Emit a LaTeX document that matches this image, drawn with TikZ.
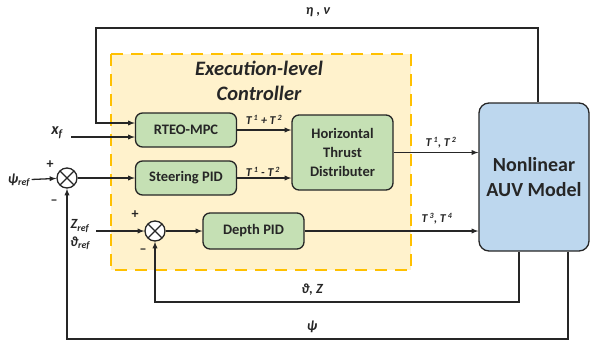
\documentclass[tikz,border=0pt]{standalone}
\usepackage{fontspec}
\setmainfont{Carlito}
\usetikzlibrary{calc}
\definecolor{boxgreen}{HTML}{C5E0B4}
\definecolor{auvblue}{HTML}{BDD7EE}
\definecolor{ctrlfill}{HTML}{FFF2CC}
\definecolor{ctrlline}{HTML}{FFC000}
\definecolor{linegray}{HTML}{262626}

\begin{document}
\begin{tikzpicture}[x=1pt,y=-1pt,>=latex,line width=1.3pt,color=linegray,
  block/.style={draw,fill=boxgreen,rounded corners=7pt,align=center,
    minimum width=101pt,font=\fontsize{14.5}{19}\selectfont\bfseries},
  sum/.style={draw,fill=white,circle,minimum size=20pt,inner sep=0pt,
    path picture={\draw[line width=1.3pt]
      (path picture bounding box.south west) -- (path picture bounding box.north east)
      (path picture bounding box.north west) -- (path picture bounding box.south east);}},
  sig/.style={font=\fontsize{12}{14}\selectfont\bfseries\itshape,inner sep=1pt},
  fb/.style={font=\fontsize{14}{16}\selectfont\bfseries\itshape,inner sep=1pt},
  inp/.style={font=\fontsize{14}{16}\selectfont\bfseries\itshape,inner sep=1pt},
  sgn/.style={font=\fontsize{14}{14}\selectfont\bfseries,inner sep=0pt}]
\useasboundingbox (0,0) rectangle (590,341);
% controller frame
\draw[ctrlline,fill=ctrlfill,line width=2pt,dash pattern=on 12pt off 8pt]
  (111,54) rectangle (411,270);
\node[align=center,font=\fontsize{20.5}{25}\selectfont\bfseries\itshape] (title)
  at (259,81) {Execution-level\\Controller};
% blocks
\node[block,minimum height=34pt] (mpc) at (186,130) {RTEO-MPC};
\node[block,minimum height=34pt] (spid) at (186,178) {Steering PID};
\node[block,minimum height=75pt] (htd) at (342.5,152.5) {Horizontal\\Thrust\\Distributer};
\node[block,minimum height=36pt] (dpid) at (253.5,231) {Depth PID};
\node[draw,fill=auvblue,rounded corners=10pt,align=center,minimum width=110pt,
  minimum height=148pt,font=\fontsize{20}{25}\selectfont\bfseries] (auv)
  at (534,177) {Nonlinear\\AUV Model};
\node[sum] (sumA) at (67,178) {};
\node[sum] (sumB) at (155,231) {};
% inputs
\node[inp,font=\fontsize{16}{16}\selectfont\bfseries\itshape] (xf) at (57,133) {x\textsubscript{f}};
\node[inp] (psiref) at (19,180) {ψ\textsubscript{ref}};
\node[inp] (zref) at (80,226) {Z\textsubscript{ref}};
\node[inp] (thref) at (80,243) {ϑ\textsubscript{ref}};
\coordinate (xfin) at (71,137);
\coordinate (zin) at (96,231);
\draw[->] (xfin) -- (xfin -| mpc.west);
\draw[->] (psiref) -- (sumA);
\draw[->] (zin) -- (sumB);
\node[sgn] at (50,165) {+};
\node[sgn] at (54,202) {–};
\node[sgn] at (135,215) {+};
\node[sgn] at (143,251) {–};
% forward path
\draw[->] (sumA) -- (spid);
\draw[->] (sumB) -- (dpid);
\draw[->] (mpc.east) -- (mpc.east -| htd.west);
\draw[->] (spid.east) -- (spid.east -| htd.west);
\draw[->] (htd.east) -- (htd.east -| auv.west);
\draw[->] (dpid.east) -- (dpid.east -| auv.west);
\node[sig] at (264,120) {T\,\textsuperscript{1} + T\,\textsuperscript{2}};
\node[sig] at (263,172) {T\,\textsuperscript{1} - T\,\textsuperscript{2}};
\node[sig] at (441,143) {T\,\textsuperscript{1}, T\,\textsuperscript{2}};
\node[sig] at (437,219) {T\,\textsuperscript{3}, T\,\textsuperscript{4}};
% feedback
\coordinate (etaR) at (538,28);
\coordinate (etaL) at (96,28);
\draw[->] (auv.north -| etaR) -- (etaR) -- (etaL) |- ([yshift=7pt]mpc.west);
\coordinate (thzR) at (519,302);
\draw[->] (auv.south -| thzR) -- (thzR) -| (sumB);
\coordinate (psiR) at (568,339);
\draw[->] (auv.south -| psiR) -- (psiR) -| (sumA);
\node[fb] at (318,12) {η , ν};
\node[fb] at (312,290) {ϑ, Z};
\node[fb] at (312,327) {ψ};
\end{tikzpicture}
\end{document}
